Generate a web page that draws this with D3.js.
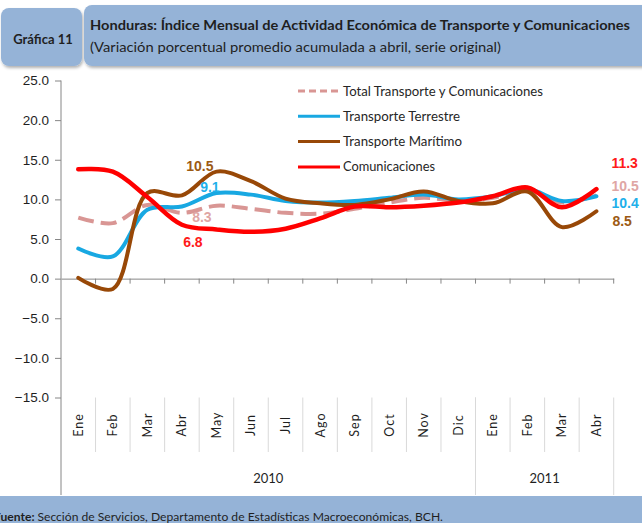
<!DOCTYPE html>
<html>
<head>
<meta charset="utf-8">
<title>Gráfica 11</title>
<script src="https://d3js.org/d3.v7.min.js"></script>
<style>
    body { margin: 0; background: #fff; }
    svg { display: block; font-family: Lato, 'Open Sans', sans-serif; }
    .tick-y { font-size: 13.5px; fill: #1f1f1f; }
    .month { font-size: 12.5px; fill: #1f1f1f; letter-spacing: 1px; }
    .year { font-size: 13px; fill: #1f1f1f; }
    .legend text { font-size: 13px; fill: #262626; }
    .vlabel { font-family: 'Liberation Sans', Arial, sans-serif; font-size: 14px; font-weight: bold; }
</style>
</head>
<body>
<svg id="chart" width="642" height="523"></svg>
<script>
// months along the x axis (two years)
const months = ["Ene", "Feb", "Mar", "Abr", "May", "Jun", "Jul", "Ago", "Sep", "Oct", "Nov", "Dic", "Ene", "Feb", "Mar", "Abr"];
const years = [{ label: "2010", n: 12 }, { label: "2011", n: 4 }];
const yTicks = [-15, -10, -5, 0, 5, 10, 15, 20, 25];

// series values (variación %)
const total     = [7.7, 7.0, 9.3, 8.3, 9.2, 8.8, 8.3, 8.2, 8.8, 9.6, 10.2, 9.8, 10.2, 11.2, 9.6, 10.5];
const terrestre = [3.8, 2.8, 8.7, 9.1, 10.8, 10.6, 9.8, 9.6, 9.8, 10.2, 10.6, 10.0, 10.4, 11.3, 9.8, 10.4];
const maritimo  = [0.1, -1.3, 10.8, 10.5, 13.5, 12.3, 10.1, 9.5, 9.3, 10.0, 11.0, 9.8, 9.5, 11.0, 6.5, 8.5];
const comunic   = [13.8, 13.5, 10.3, 6.8, 6.2, 5.9, 6.3, 7.6, 9.1, 9.0, 9.2, 9.6, 10.4, 11.5, 9.0, 11.3];

const series = [
    { name: "Total Transporte y Comunicaciones", values: total, color: "#D99694", label: "#DFA6A4", width: 4, dash: "16,7" },
    { name: "Transporte Terrestre", values: terrestre, color: "#18A8E2", label: "#1FB0EA", width: 4 },
    { name: "Transporte Marítimo", values: maritimo, color: "#984807", label: "#9C5A14", width: 4 },
    { name: "Comunicaciones", values: comunic, color: "#FF0000", label: "#FF1A1A", width: 4.5 }
];

// labelled points: Abr 2010 (index 3) and Abr 2011 (index 15)
const labels = [
    { s: 2, i: 3, dx: 18, dy: -29, anchor: "middle" },
    { s: 1, i: 3, dx: 28, dy: -20, anchor: "middle" },
    { s: 0, i: 3, dx: 20, dy: 4, anchor: "middle" },
    { s: 3, i: 3, dx: 11, dy: 17, anchor: "middle" },
    { s: 3, i: 15, dx: 15, dy: -26, anchor: "start" },
    { s: 0, i: 15, dx: 15, dy: -9, anchor: "start" },
    { s: 1, i: 15, dx: 15, dy: 7, anchor: "start" },
    { s: 2, i: 15, dx: 16, dy: 10, anchor: "start" }
];

const svg = d3.select("#chart");
const pLeft = 61, pRight = 613.7, pTop = 80.5, pBottom = 397.5;

const x = d3.scaleBand().domain(d3.range(months.length)).range([pLeft, pRight]);
const cx = i => x(i) + x.bandwidth() / 2;
const y = d3.scaleLinear().domain([-15, 25]).range([pBottom, pTop]);

// header boxes
const defs = svg.append("defs");
const sh = defs.append("filter").attr("id", "shadow").attr("x", "-5%").attr("y", "-20%").attr("width", "110%").attr("height", "150%");
sh.append("feDropShadow").attr("dx", 1).attr("dy", 2).attr("stdDeviation", 1.5).attr("flood-color", "#000").attr("flood-opacity", 0.3);

svg.append("rect").attr("x", 1).attr("y", 8).attr("width", 81).attr("height", 58)
    .attr("rx", 8).attr("fill", "#95B3D7").attr("filter", "url(#shadow)");
svg.append("rect").attr("x", 84).attr("y", 5).attr("width", 570).attr("height", 61)
    .attr("rx", 8).attr("fill", "#95B3D7").attr("filter", "url(#shadow)");

svg.append("text").attr("x", 43).attr("y", 43.5).attr("text-anchor", "middle")
    .attr("font-size", 13).attr("font-weight", "bold").attr("fill", "#1f1f1f").text("Gráfica 11");
svg.append("text").attr("x", 90).attr("y", 30).attr("font-size", 14).attr("font-weight", "bold")
    .attr("fill", "#1f1f1f").attr("textLength", 540).attr("lengthAdjust", "spacingAndGlyphs")
    .text("Honduras: Índice Mensual de Actividad Económica de Transporte y Comunicaciones");
svg.append("text").attr("x", 90).attr("y", 51.5).attr("font-size", 14)
    .attr("fill", "#1f1f1f").attr("textLength", 411).attr("lengthAdjust", "spacingAndGlyphs")
    .text("(Variación porcentual promedio acumulada a abril, serie original)");

// y axis
const yAxis = svg.append("g").attr("transform", `translate(${pLeft},0)`)
    .call(d3.axisLeft(y).tickValues(yTicks).tickFormat(d3.format(".1f")).tickSize(6).tickPadding(6));
yAxis.select(".domain").remove();
yAxis.selectAll("line").attr("stroke", "#868686");
yAxis.selectAll("text").attr("class", "tick-y").attr("font-family", null).attr("font-size", null);
svg.append("line").attr("x1", pLeft).attr("x2", pLeft).attr("y1", pTop).attr("y2", 495)
    .attr("stroke", "#868686");

// zero line with small ticks at category borders
const zero = svg.append("g").attr("transform", `translate(0,${y(0)})`)
    .call(d3.axisBottom(x).tickValues([]).tickSize(0));
zero.select(".domain").attr("stroke", "#868686");
zero.selectAll(".brd").data(d3.range(1, months.length + 1)).join("line")
    .attr("x1", i => pLeft + i * x.bandwidth()).attr("x2", i => pLeft + i * x.bandwidth())
    .attr("y1", 0).attr("y2", 5).attr("stroke", "#868686");

// category labels at the bottom
svg.selectAll(".msep").data(d3.range(1, months.length)).join("line")
    .attr("x1", i => x(i)).attr("x2", i => x(i))
    .attr("y1", pBottom).attr("y2", 452).attr("stroke", "#D9D9D9");
svg.selectAll(".month").data(months).join("text").attr("class", "month")
    .attr("transform", (d, i) => `translate(${cx(i) + 4.5},425) rotate(-90)`)
    .attr("text-anchor", "middle").text(d => d);

let start = 0;
years.forEach(yr => {
    const x0 = x(start), x1 = start + yr.n < months.length ? x(start + yr.n) : pRight;
    svg.append("line").attr("x1", x1).attr("x2", x1).attr("y1", pBottom).attr("y2", 495).attr("stroke", "#D9D9D9");
    svg.append("text").attr("class", "year").attr("x", (x0 + x1) / 2).attr("y", 483)
        .attr("text-anchor", "middle").text(yr.label);
    start += yr.n;
});

// lines
const line = d3.line().x((d, i) => cx(i)).y(d => y(d)).curve(d3.curveCatmullRom.alpha(0.5));
svg.append("g").selectAll("path").data(series).join("path")
    .attr("d", s => line(s.values))
    .attr("fill", "none")
    .attr("stroke", s => s.color)
    .attr("stroke-width", s => s.width)
    .attr("stroke-dasharray", s => s.dash || null)
    .attr("stroke-linecap", s => s.dash ? "butt" : "round")
    .attr("stroke-linejoin", "round");

// value labels
svg.append("g").selectAll("text").data(labels).join("text").attr("class", "vlabel")
    .attr("x", d => cx(d.i) + d.dx)
    .attr("y", d => y(series[d.s].values[d.i]) + d.dy + 5)
    .attr("text-anchor", d => d.anchor)
    .attr("fill", d => series[d.s].label)
    .text(d => d3.format(".1f")(series[d.s].values[d.i]));

// legend
const lg = svg.append("g").attr("class", "legend");
const lw = [200, 117, 119, 92];
series.forEach((s, k) => {
    const ly = 91 + k * 25.3;
    lg.append("line").attr("x1", 298).attr("x2", 340).attr("y1", ly).attr("y2", ly)
        .attr("stroke", s.color).attr("stroke-width", 3)
        .attr("stroke-dasharray", s.dash ? "7,4" : null);
    lg.append("text").attr("x", 343).attr("y", ly + 4.5).attr("textLength", lw[k])
        .attr("lengthAdjust", "spacingAndGlyphs").text(s.name);
});

// source band
svg.append("rect").attr("x", 0).attr("y", 496).attr("width", 642).attr("height", 27).attr("fill", "#95B3D7");
const src = svg.append("text").attr("x", -6).attr("y", 521).attr("font-size", 12).attr("fill", "#1f1f1f")
    .attr("textLength", 449).attr("lengthAdjust", "spacingAndGlyphs");
src.append("tspan").attr("font-weight", "bold").text("Fuente: ");
src.append("tspan").text("Sección de Servicios, Departamento de Estadísticas Macroeconómicas, BCH.");
</script>
</body>
</html>
